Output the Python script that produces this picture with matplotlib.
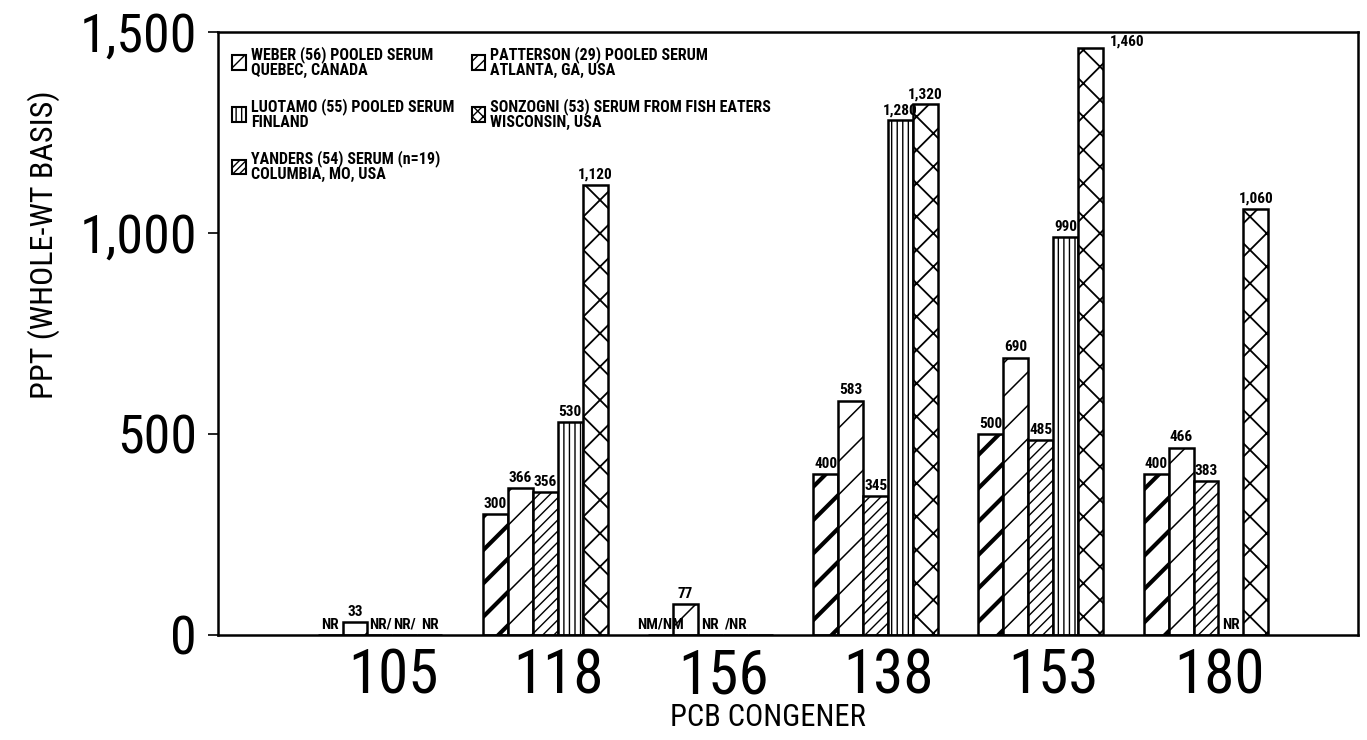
import numpy as np
import matplotlib
matplotlib.use("Agg")
import matplotlib.pyplot as plt
from matplotlib.patches import Patch
from matplotlib.ticker import FuncFormatter

# PCB congeners in serum, ppt whole-weight basis (NaN = not reported / not measured)
congeners = ["105", "118", "156", "138", "153", "180"]
series = [
    "WEBER (56) POOLED SERUM\nQUEBEC, CANADA",
    "PATTERSON (29) POOLED SERUM\nATLANTA, GA, USA",
    "YANDERS (54) SERUM (n=19)\nCOLUMBIA, MO, USA",
    "LUOTAMO (55) POOLED SERUM\nFINLAND",
    "SONZOGNI (53) SERUM FROM FISH EATERS\nWISCONSIN, USA",
]
weber = [np.nan, 300, np.nan, 400, 500, 400]
patterson = [33, 366, 77, 583, 690, 466]
yanders = [np.nan, 356, np.nan, 345, 485, 383]
luotamo = [np.nan, 530, np.nan, 1280, 990, np.nan]
sonzogni = [np.nan, 1120, np.nan, 1320, 1460, 1060]
values = [weber, patterson, yanders, luotamo, sonzogni]

# text shown in place of a missing bar, one list per series
missing_notes = [
    ["NR", "", "NM/NM", "", "", ""],
    ["", "", "", "", "", ""],
    ["NR/", "", "NR", "", "", ""],
    ["NR/", "", "/NR", "", "", "NR"],
    ["NR", "", "", "", "", ""],
]

hatches = ["/", "/", "///", "|||", "x"]
legend_hatches = ["//", "///", "/////", "|||", "xxx"]   # denser so they show in the small keys
hatch_lw = [3.0, 1.1, 1.0, 1.0, 1.3]
legend_order = [0, 3, 2, 1, 4]   # two columns, filled top to bottom

NARROW = ["Roboto Condensed", "Archivo Narrow", "Liberation Sans", "DejaVu Sans"]
plt.rcParams["font.family"] = NARROW

fig = plt.figure(figsize=(13.67, 7.40), dpi=100)
ax = fig.add_axes([0.1595, 0.1419, 0.8339, 0.8149])

YMAX = 1500
x = np.arange(len(congeners))
width = 0.151
for k, (vals, lab) in enumerate(zip(values, series)):
    pos = x + (k - 2) * width
    with plt.rc_context({"hatch.linewidth": hatch_lw[k]}):
        bars = ax.bar(pos, np.nan_to_num(vals), width, facecolor="white",
                      edgecolor="black", linewidth=1.8, hatch=hatches[k])
    for b in bars:
        if hasattr(b, "set_hatch_linewidth"):
            b.set_hatch_linewidth(hatch_lw[k])
    for p, v, note in zip(pos, vals, missing_notes[k]):
        if np.isnan(v):
            if note:
                ax.text(p, 8, note, ha="center", va="bottom", fontsize=11,
                        fontweight="bold")
            continue
        if v > YMAX - 60:
            # no room above the bar: put the value beside it
            ax.text(p + width * 0.75, v - 2, f"{v:,.0f}", ha="left",
                    va="bottom", fontsize=11, fontweight="bold")
        else:
            ax.text(p, v + 8, f"{v:,.0f}", ha="center", va="bottom",
                    fontsize=11, fontweight="bold")

ax.set_xlim(-0.98, 5.92)
ax.set_ylim(0, YMAX)
ax.set_yticks([0, 500, 1000, 1500])
ax.yaxis.set_major_formatter(FuncFormatter(lambda v, _: f"{v:,.0f}"))
ax.set_xticks(x + 0.08)
ax.set_xticklabels(congeners)
ax.tick_params(axis="x", length=0, pad=9, labelsize=44)
ax.tick_params(axis="y", length=7, width=1.2, pad=8, labelsize=39)
for s in ax.spines.values():
    s.set_linewidth(1.8)

ax.set_ylabel("PPT (WHOLE-WT BASIS)", fontsize=23)
ax.yaxis.set_label_coords(-0.139, 0.647)
ax.set_xlabel("PCB CONGENER", fontsize=22)
ax.xaxis.set_label_coords(0.482, -0.113)

with plt.rc_context({"hatch.linewidth": 1.2}):
    keys = [Patch(facecolor="white", edgecolor="black", linewidth=1.5,
                  hatch=legend_hatches[i]) for i in legend_order]
leg = ax.legend(keys, [series[i] for i in legend_order],
                loc="upper left", ncol=2, frameon=False,
                bbox_to_anchor=(0.0, 1.0), borderaxespad=0.5,
                handlelength=0.85, handleheight=1.0, handletextpad=0.3,
                labelspacing=1.3, columnspacing=1.1,
                prop={"family": NARROW, "weight": "bold", "size": 11.5})
for t in leg.get_texts():
    t.set_linespacing(0.95)

fig.savefig("out.png", dpi=100)
